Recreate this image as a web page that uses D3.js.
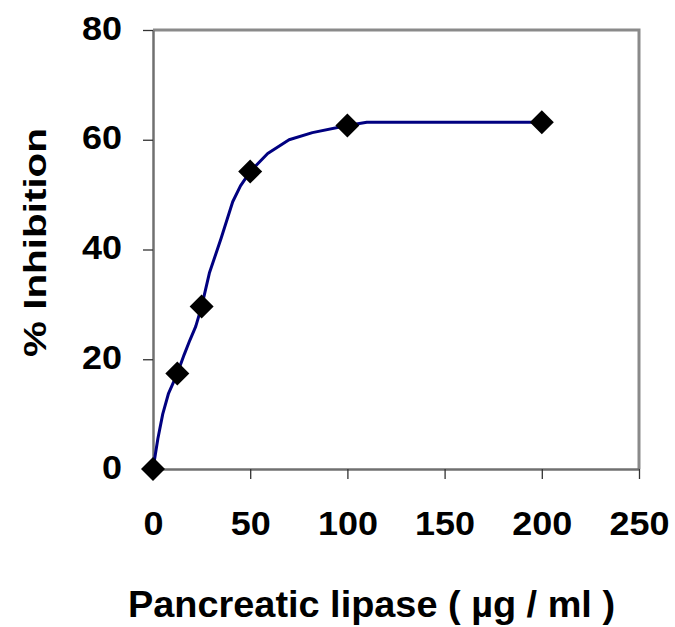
<!DOCTYPE html>
<html>
<head>
<meta charset="utf-8">
<script src="https://cdn.jsdelivr.net/npm/d3@7"></script>
<style>
  html, body { margin: 0; padding: 0; background: #fff; }
  svg { display: block; }
  text { font-family: "Liberation Sans", Arial, sans-serif; font-weight: bold; fill: #000; }
</style>
</head>
<body>
<svg id="chart" width="675" height="627"></svg>
<script>
// Measured points (concentration µg/ml, % inhibition)
const concentrations = [0, 12.5, 25, 50, 100, 200];
const inhibition = [0, 17.4, 29.6, 54.2, 62.6, 63.2];

// Smoothed curve
const curveX = [0, 2.5, 5, 8, 12.5, 16, 19, 22, 25, 29, 35, 41, 45, 50, 59, 70, 82, 100, 110, 200];
const curveY = [0, 5.5, 10, 13.8, 17.4, 20.8, 23.5, 26, 29.6, 35.7, 42, 48.7, 51.6, 54.2, 57.5, 60, 61.3, 62.6, 63.2, 63.2];

const xTicks = [0, 50, 100, 150, 200, 250];
const yTicks = [0, 20, 40, 60, 80];

const xTitle = "Pancreatic lipase ( µg / ml )";
const yTitle = "%  Inhibition";

(function () {
const svg = d3.select("#chart");
const pLeft = 153, pRight = 639, pTop = 30, pBottom = 469;

const x = d3.scaleLinear().domain([0, 250]).range([pLeft, pRight]);
const y = d3.scaleLinear().domain([0, 80]).range([pBottom, pTop]);

// plot border (top/right)
svg.append("path")
  .attr("d", `M${pLeft},${pTop}H${pRight}V${pBottom}`)
  .attr("fill", "none").attr("stroke", "#8a8a8a").attr("stroke-width", 3);

// Axes
const xAxis = svg.append("g").attr("transform", `translate(0,${pBottom})`)
  .call(d3.axisBottom(x).tickValues(xTicks).tickSize(10).tickSizeOuter(0).tickFormat(d3.format("d")));
const yAxis = svg.append("g").attr("transform", `translate(${pLeft},0)`)
  .call(d3.axisLeft(y).tickValues(yTicks).tickSize(10).tickSizeOuter(0).tickFormat(d3.format("d")));

[xAxis, yAxis].forEach(g => {
  g.select(".domain").attr("stroke", "#707070").attr("stroke-width", 2.5);
  g.selectAll(".tick line").attr("stroke", "#333").attr("stroke-width", 1.3);
  g.selectAll(".tick text")
    .style("font-family", "'Liberation Sans', Arial, sans-serif")
    .style("font-weight", "bold")
    .style("font-size", "33px")
    .attr("fill", "#000")
    .attr("lengthAdjust", "spacingAndGlyphs")
    .attr("textLength", d => String(d).length * 20);
});
xAxis.selectAll(".tick text").attr("dy", null).attr("y", 66);
yAxis.selectAll(".tick text").attr("dy", null).attr("x", -31).attr("y", 9);

// Curve
const line = d3.line().x(d => x(d[0])).y(d => y(d[1]));
svg.append("path")
  .datum(curveX.map((v, i) => [v, curveY[i]]))
  .attr("d", line)
  .attr("fill", "none").attr("stroke", "#000080").attr("stroke-width", 3)
  .attr("stroke-linejoin", "round");

// Markers (diamonds)
const diamond = d3.symbol().type(d3.symbolSquare).size(288);
svg.selectAll(".pt")
  .data(concentrations.map((v, i) => [v, inhibition[i]]))
  .enter().append("path")
  .attr("d", diamond)
  .attr("transform", d => `translate(${x(d[0])},${y(d[1])}) rotate(45)`)
  .attr("fill", "#000");

// Titles
svg.append("text")
  .attr("x", (128 + 615) / 2).attr("y", 617)
  .attr("text-anchor", "middle")
  .style("font-size", "36px")
  .attr("lengthAdjust", "spacingAndGlyphs").attr("textLength", 487)
  .text(xTitle);

svg.append("text")
  .attr("transform", `translate(46,${(128 + 357) / 2}) rotate(-90)`)
  .attr("text-anchor", "middle")
  .style("font-size", "31px")
  .attr("lengthAdjust", "spacingAndGlyphs").attr("textLength", 229)
  .text(yTitle);
})();
</script>
</body>
</html>
